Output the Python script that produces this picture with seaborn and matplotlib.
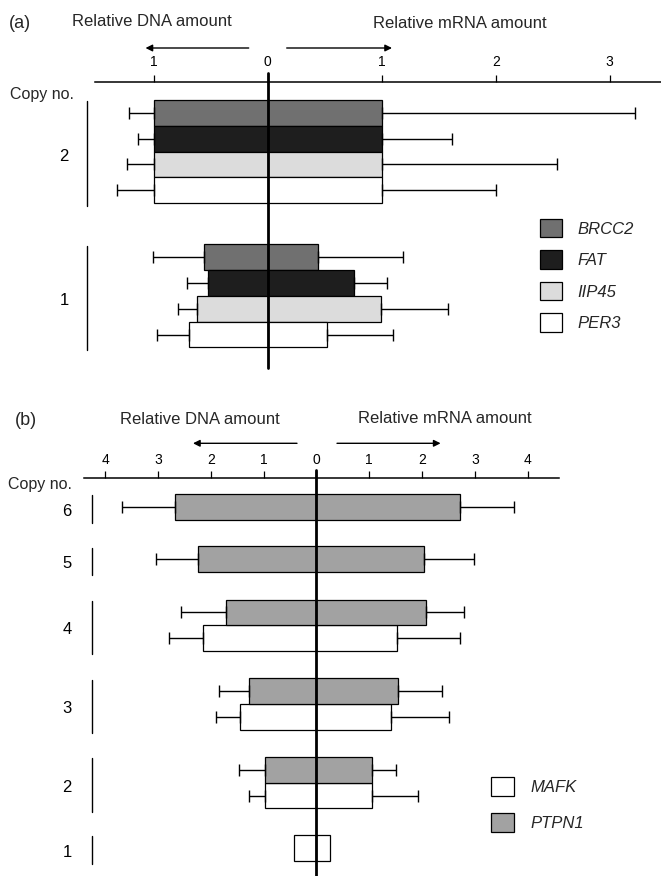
import numpy as np
import pandas as pd
import matplotlib
matplotlib.use("Agg")
import matplotlib.pyplot as plt
import matplotlib.transforms as mtransforms
from matplotlib.patches import Patch
import seaborn as sns

# ---------------- data ----------------
# panel (a)
a_genes = ["BRCC2", "FAT", "IIP45", "PER3"]
a_copy_no = [2, 2, 2, 2, 1, 1, 1, 1]
a_gene = ["BRCC2", "FAT", "IIP45", "PER3", "BRCC2", "FAT", "IIP45", "PER3"]
a_dna = [1.00, 1.00, 1.00, 1.00, 0.56, 0.52, 0.62, 0.69]
a_dna_sd = [0.22, 0.14, 0.23, 0.32, 0.45, 0.19, 0.17, 0.28]
a_mrna = [1.00, 1.00, 1.00, 1.00, 0.44, 0.76, 0.99, 0.52]
a_mrna_sd = [2.22, 0.62, 1.54, 1.00, 0.75, 0.29, 0.59, 0.58]
a_ticks = [-1, 0, 1, 2, 3]
a_ticklabels = ["1", "0", "1", "2", "3"]

# panel (b)
b_genes = ["MAFK", "PTPN1"]
b_copy_no = [6, 5, 4, 4, 3, 3, 2, 2, 1]
b_gene = ["PTPN1", "PTPN1", "PTPN1", "MAFK", "PTPN1", "MAFK", "PTPN1", "MAFK", "MAFK"]
b_dna = [2.68, 2.24, 1.71, 2.14, 1.28, 1.44, 0.98, 0.98, 0.43]
b_dna_sd = [1.00, 0.80, 0.85, 0.66, 0.56, 0.46, 0.48, 0.30, 0.0]
b_mrna = [2.72, 2.03, 2.07, 1.53, 1.54, 1.41, 1.06, 1.06, 0.25]
b_mrna_sd = [1.03, 0.96, 0.72, 1.19, 0.83, 1.10, 0.45, 0.87, 0.0]
b_ticks = [-4, -3, -2, -1, 0, 1, 2, 3, 4]
b_ticklabels = ["4", "3", "2", "1", "0", "1", "2", "3", "4"]

# ---------------- style / layout ----------------
a_palette = {"BRCC2": "#707070", "FAT": "#1e1e1e", "IIP45": "#dcdcdc", "PER3": "#ffffff"}
b_palette = {"MAFK": "#ffffff", "PTPN1": "#a2a2a2"}
a_group_start = {2: 0.0, 1: 5.6}
b_group_start = {6: 0.0, 5: 2.03, 4: 4.1, 3: 7.17, 2: 10.23, 1: 13.27}

sns.set_style("white")
plt.rcParams["font.family"] = ["Liberation Sans", "DejaVu Sans"]

W, H = 661, 876
fig = plt.figure(figsize=(W / 100, H / 100), dpi=100)
fig.patch.set_facecolor("white")


def make_ax(left, right, top, bottom):
    return fig.add_axes([left / W, 1 - bottom / H, (right - left) / W, (bottom - top) / H])


def positions(copies, group_start):
    pos, seen = [], {}
    for c in copies:
        k = seen.get(c, 0)
        pos.append(group_start[c] + k)
        seen[c] = k + 1
    return pos


def draw_panel(ax, copies, genes, gene_order, dna, dna_sd, mrna, mrna_sd, palette,
               group_start, xlim, ylim, ticks, ticklabels, tick_pad, ylab_pad,
               bracket_x, zero_ext):
    pos = positions(copies, group_start)
    df = pd.DataFrame({"copy": copies, "gene": genes, "pos": pos,
                       "dna": dna, "dna_sd": dna_sd, "mrna": mrna, "mrna_sd": mrna_sd})
    df["dna_neg"] = -df["dna"]
    for col in ["dna_neg", "mrna"]:
        sns.barplot(data=df, x=col, y="pos", hue="gene", hue_order=gene_order,
                    palette=palette, orient="y", native_scale=True, dodge=False,
                    width=1.0, errorbar=None, saturation=1, edgecolor="black",
                    linewidth=0.9, legend=False, ax=ax)
    m = df["dna_sd"] > 0
    ax.errorbar(df.loc[m, "dna_neg"], df.loc[m, "pos"],
                xerr=[df.loc[m, "dna_sd"], np.zeros(m.sum())], fmt="none",
                ecolor="black", elinewidth=1.0, capsize=4, capthick=1.0, zorder=3)
    m = df["mrna_sd"] > 0
    ax.errorbar(df.loc[m, "mrna"], df.loc[m, "pos"],
                xerr=[np.zeros(m.sum()), df.loc[m, "mrna_sd"]], fmt="none",
                ecolor="black", elinewidth=1.0, capsize=4, capthick=1.0, zorder=3)

    ax.set_xlim(*xlim)
    ax.set_ylim(*ylim)
    ax.set(xlabel="", ylabel="")
    ax.xaxis.tick_top()
    ax.set_xticks(ticks)
    ax.set_xticklabels(ticklabels)
    ax.tick_params(axis="x", direction="out", length=5, width=0.9, pad=tick_pad,
                   labelsize=10, colors="black")
    for s in ["left", "right", "bottom"]:
        ax.spines[s].set_visible(False)
    ax.spines["top"].set_linewidth(1.1)
    ax.spines["top"].set_color("black")

    # copy-number labels and brackets
    centers, labels = [], []
    trans = mtransforms.blended_transform_factory(ax.transAxes, ax.transData)
    for c in dict.fromkeys(copies):
        ps = df.loc[df["copy"] == c, "pos"]
        top, bot = ps.min() - 0.5, ps.max() + 0.5
        centers.append((top + bot) / 2 + 0.12)
        labels.append(str(c))
        ax.plot([bracket_x, bracket_x], [top + 0.05, bot + 0.12], transform=trans,
                clip_on=False, color="black", lw=1.0)
    ax.set_yticks(centers)
    ax.set_yticklabels(labels)
    ax.tick_params(axis="y", length=0, pad=ylab_pad, labelsize=12, colors="black")

    ax.axvline(0, ymin=0, ymax=1 + zero_ext, color="black", lw=2.0,
               clip_on=False, zorder=6)
    return df


# panel (a)
ax_a = make_ax(95, 661, 82, 368)
draw_panel(ax_a, a_copy_no, a_gene, a_genes, a_dna, a_dna_sd, a_mrna, a_mrna_sd,
           a_palette, a_group_start, (-1.515, 3.45), (9.9, -1.2), a_ticks,
           a_ticklabels, 4.0, 19.0, (87.5 - 95) / 566, 9 / 286)

# panel (b)
ax_b = make_ax(84, 558.6, 478.3, 876)
draw_panel(ax_b, b_copy_no, b_gene, b_genes, b_dna, b_dna_sd, b_mrna, b_mrna_sd,
           b_palette, b_group_start, (-4.40, 4.585), (14.36, -1.117), b_ticks,
           b_ticklabels, 2.8, 9.0, (92 - 84) / 474.6, 8 / 397.7)

# legends
a_handles = [Patch(facecolor=a_palette[g], edgecolor="black", linewidth=0.9) for g in a_genes]
ax_a.legend(a_handles, a_genes, loc="upper left", bbox_to_anchor=(540 / W, 1 - 219 / H),
            bbox_transform=fig.transFigure, frameon=False,
            prop={"style": "italic", "size": 12}, handlelength=1.29, handleheight=1.32,
            handletextpad=0.96, labelspacing=0.78, borderpad=0, borderaxespad=0)
b_handles = [Patch(facecolor=b_palette[g], edgecolor="black", linewidth=0.9) for g in b_genes]
ax_b.legend(b_handles, b_genes, loc="upper left", bbox_to_anchor=(491 / W, 1 - 777 / H),
            bbox_transform=fig.transFigure, frameon=False,
            prop={"style": "italic", "size": 12}, handlelength=1.35, handleheight=1.38,
            handletextpad=0.99, labelspacing=1.0, borderpad=0, borderaxespad=0)

# header texts
def ftext(x, y, s, size=12, ha="center"):
    fig.text(x / W, 1 - y / H, s, ha=ha, va="center", fontsize=size)

ftext(8.4, 23, "(a)", 13, ha="left")
ftext(152, 21.5, "Relative DNA amount")
ftext(460, 23.5, "Relative mRNA amount")
ftext(10, 94, "Copy no.", 11.5, ha="left")
ftext(15, 421, "(b)", 13, ha="left")
ftext(200, 419, "Relative DNA amount")
ftext(445, 418, "Relative mRNA amount")
ftext(7.6, 485, "Copy no.", 11.5, ha="left")


def arrow(x0, x1, y):
    ax_a.annotate("", xy=(x1, H - y), xytext=(x0, H - y), xycoords="figure pixels",
                  textcoords="figure pixels", annotation_clip=False,
                  arrowprops=dict(arrowstyle="-|>", color="black", lw=1.0,
                                  mutation_scale=10, shrinkA=0, shrinkB=0))

arrow(248.7, 145.5, 48)
arrow(286.7, 392, 48)
arrow(297, 193, 443.3)
arrow(337, 440.6, 443.3)

fig.savefig("out.png", dpi=100, facecolor="white")
